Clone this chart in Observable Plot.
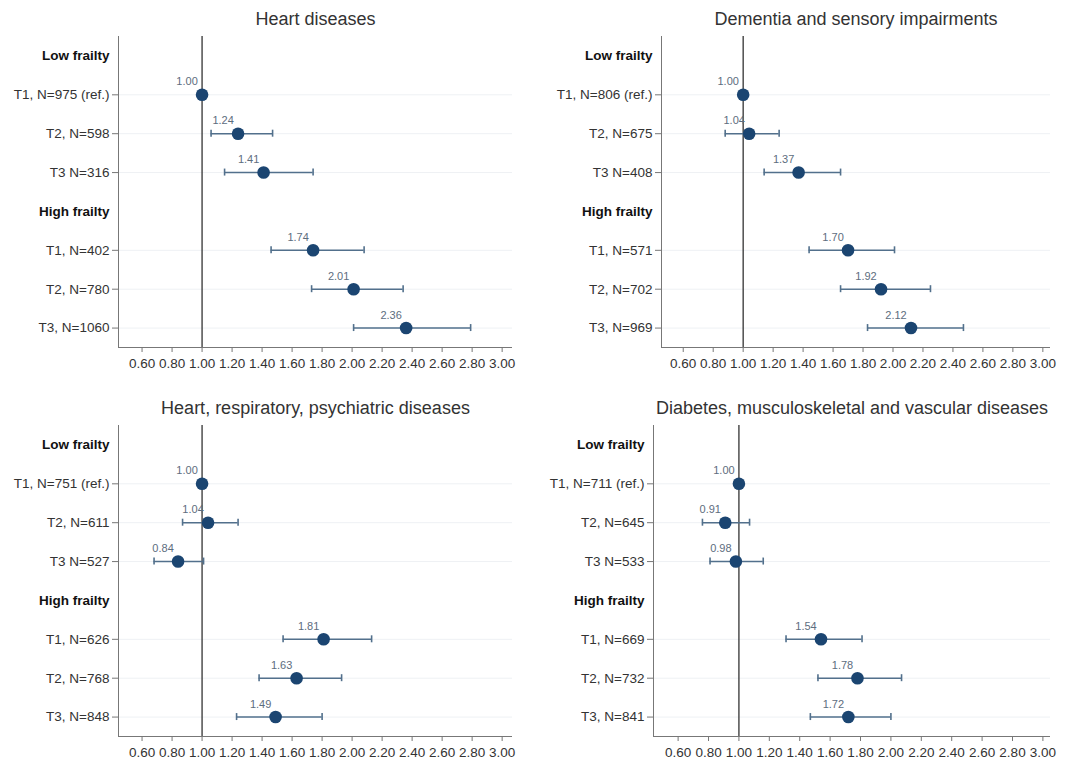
<!DOCTYPE html>
<html>
<head>
<meta charset="utf-8">
<script src="https://cdn.jsdelivr.net/npm/d3@7"></script>
<script src="https://cdn.jsdelivr.net/npm/@observablehq/plot@0.6"></script>
<style>
  html, body { margin: 0; padding: 0; background: #ffffff; }
  #wrap { position: relative; width: 1069px; height: 764px; background: #ffffff; overflow: hidden; }
  #wrap svg { position: absolute; }
</style>
</head>
<body>
<div id="wrap"></div>
<script>
// ---- Data ----
const titles = [
  "Heart diseases",
  "Dementia and sensory impairments",
  "Heart, respiratory, psychiatric diseases",
  "Diabetes, musculoskeletal and vascular diseases"
];
const groupHeaders = ["Low frailty", "High frailty"];
const rowLabels = [
  ["T1, N=975 (ref.)", "T2, N=598", "T3 N=316", "T1, N=402", "T2, N=780", "T3, N=1060"],
  ["T1, N=806 (ref.)", "T2, N=675", "T3 N=408", "T1, N=571", "T2, N=702", "T3, N=969"],
  ["T1, N=751 (ref.)", "T2, N=611", "T3 N=527", "T1, N=626", "T2, N=768", "T3, N=848"],
  ["T1, N=711 (ref.)", "T2, N=645", "T3 N=533", "T1, N=669", "T2, N=732", "T3, N=841"]
];
const hazardRatios = [
  [1.00, 1.24, 1.41, 1.74, 2.01, 2.36],
  [1.00, 1.04, 1.37, 1.70, 1.92, 2.12],
  [1.00, 1.04, 0.84, 1.81, 1.63, 1.49],
  [1.00, 0.91, 0.98, 1.54, 1.78, 1.72]
];
const ciLower = [
  [null, 1.06, 1.15, 1.46, 1.73, 2.01],
  [null, 0.88, 1.14, 1.44, 1.65, 1.83],
  [null, 0.87, 0.68, 1.54, 1.38, 1.23],
  [null, 0.76, 0.81, 1.31, 1.52, 1.47]
];
const ciUpper = [
  [null, 1.47, 1.74, 2.08, 2.34, 2.79],
  [null, 1.24, 1.65, 2.01, 2.25, 2.47],
  [null, 1.24, 1.01, 2.13, 1.93, 1.80],
  [null, 1.07, 1.16, 1.81, 2.07, 2.00]
];
const xTicks = [0.6, 0.8, 1.0, 1.2, 1.4, 1.6, 1.8, 2.0, 2.2, 2.4, 2.6, 2.8, 3.0];
const refValue = 1.0;

// ---- Layout (per panel) ----
const panels = [
  {left: 0,   top: 0,   width: 530, marginLeft: 118, marginRight: 18, domain: [0.443, 3.069]},
  {left: 535, top: 0,   width: 534, marginLeft: 126, marginRight: 19, domain: [0.455, 3.051]},
  {left: 0,   top: 389, width: 530, marginLeft: 118, marginRight: 18, domain: [0.443, 3.069]},
  {left: 535, top: 389, width: 534, marginLeft: 118, marginRight: 19, domain: [0.438, 3.050]}
];
const H = 382, MT = 36, MB = 35;

const wrap = document.getElementById("wrap");
const fmt = d3.format(".2f");

panels.forEach((p, i) => {
  const labels = rowLabels[i];
  const yDomain = [groupHeaders[0], labels[0], labels[1], labels[2], groupHeaders[1], labels[3], labels[4], labels[5]];
  const rows = labels.map((l, j) => ({label: l, hr: hazardRatios[i][j], lo: ciLower[i][j], hi: ciUpper[i][j]}));
  const ciRows = rows.filter(d => d.lo != null);
  const band = (H - MT - MB) / yDomain.length;
  const capH = 7;

  const chart = Plot.plot({
    width: p.width,
    height: H,
    marginLeft: p.marginLeft,
    marginRight: p.marginRight,
    marginTop: MT,
    marginBottom: MB,
    style: {fontFamily: "'Liberation Sans', Arial, sans-serif", fontSize: "13.5px", color: "#333", background: "white", overflow: "visible"},
    x: {domain: p.domain, ticks: xTicks},
    y: {type: "band", domain: yDomain, padding: 0, round: false},
    marks: [
      Plot.ruleY(labels, {y: d => d, stroke: "#eef1f4", strokeWidth: 1}),
      Plot.ruleX([p.domain[0]], {stroke: "#777", strokeWidth: 1}),
      Plot.ruleY([labels[5]], {dy: band / 2, stroke: "#777", strokeWidth: 1}),
      Plot.axisX({ticks: xTicks, tickFormat: fmt, tickSize: 5, tickPadding: 6, stroke: "#777", fontSize: 13.5, color: "#333", label: null}),
      Plot.axisY({ticks: labels, tickSize: 6, tickPadding: 3, stroke: "#777", fontSize: 13.5, label: null}),
      Plot.axisY({ticks: groupHeaders, tickSize: 0, tickPadding: 9, fontSize: 13.5, fontWeight: "bold", fill: "#111", label: null}),
      Plot.ruleX([refValue], {stroke: "#333", strokeWidth: 1.3}),
      Plot.ruleY(ciRows, {y: "label", x1: "lo", x2: "hi", stroke: "#52708c", strokeWidth: 1.6}),
      Plot.tickX(ciRows, {x: "lo", y: "label", stroke: "#52708c", strokeWidth: 1.6, insetTop: (band - capH) / 2, insetBottom: (band - capH) / 2}),
      Plot.tickX(ciRows, {x: "hi", y: "label", stroke: "#52708c", strokeWidth: 1.6, insetTop: (band - capH) / 2, insetBottom: (band - capH) / 2}),
      Plot.dot(rows, {x: "hr", y: "label", r: 6.3, fill: "#1b4571", stroke: "none"}),
      Plot.text(rows, {x: "hr", y: "label", text: d => fmt(d.hr), dx: -15, dy: -13, fontSize: 11, fill: "#5d6d7e"}),
      Plot.text([titles[i]], {frameAnchor: "top", lineAnchor: "middle", dy: -17, fontSize: 18, fill: "#333"})
    ]
  });
  chart.style.left = p.left + "px";
  chart.style.top = p.top + "px";
  wrap.appendChild(chart);
});
</script>
</body>
</html>
